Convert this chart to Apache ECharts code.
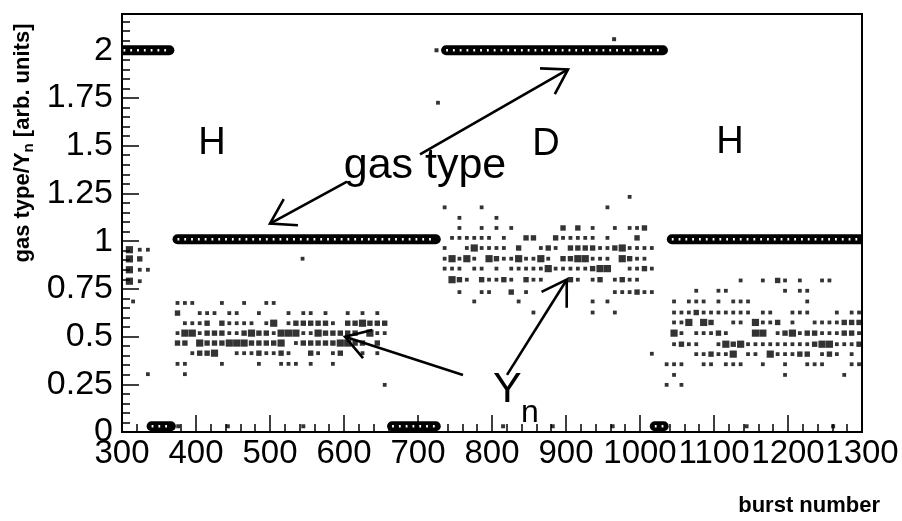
<!DOCTYPE html>
<html><head><meta charset="utf-8">
<script src="https://cdn.jsdelivr.net/npm/echarts@6/dist/echarts.min.js"></script>
<style>html,body{margin:0;padding:0;background:#fff}#c{width:902px;height:521px}</style>
</head><body><div id="c"></div>
<script>
// ---- axis ticks ----
const xTickValues = [300, 400, 500, 600, 700, 800, 900, 1000, 1100, 1200, 1300];
const yTickValues = [0, 0.25, 0.5, 0.75, 1, 1.25, 1.5, 1.75, 2];

// ---- gas type: runs of constant value [first burst, last burst, value] ----
const gasSegments = [
  [302, 364, 2], [375, 724, 1.01], [340, 366, 0.03], [665, 724, 0.03],
  [738, 1031, 2], [1043, 1300, 1.01], [1020, 1032, 0.03]
];
// isolated gas-type readings [burst, value]
const gasIsolated = [
  [376, 0.03], [443, 0.03], [545, 0.03], [815, 0.03], [882, 0.03],
  [963, 0.03], [1144, 0.03], [1261, 0.03], [725, 2.0], [965, 2.058]
];

// ---- Y_n readings [burst, Y_n, weight class 1..3] ----
const ynLeft = [
  [310, 0.955, 3], [324, 0.955, 1], [335, 0.955, 1],
  [310, 0.907, 3], [324, 0.907, 2],
  [310, 0.85, 3], [324, 0.85, 1], [335, 0.85, 1],
  [310, 0.79, 3], [324, 0.79, 1],
  [315, 0.684, 1], [335, 0.303, 1]
];
const ynH1 = [
  [375,0.676,1],[385,0.676,1],[395,0.676,1],[435,0.676,1],[465,0.676,1],[495,0.676,1],[505,0.676,1],
  [375,0.623,2],[405,0.623,1],[415,0.623,1],[425,0.623,1],[445,0.623,1],[455,0.623,1],[485,0.623,1],
  [525,0.623,1],[545,0.623,1],[555,0.623,1],[575,0.623,1],[605,0.623,1],[625,0.623,1],[645,0.623,1],
  [385,0.57,1],[395,0.57,1],[405,0.57,1],[415,0.57,2],[435,0.57,2],[445,0.57,1],[455,0.57,1],[465,0.57,1],
  [475,0.57,1],[495,0.57,1],[505,0.57,3],[525,0.57,1],[535,0.57,2],[545,0.57,2],[555,0.57,2],[565,0.57,2],
  [575,0.57,2],[585,0.57,1],[605,0.57,2],[615,0.57,2],[625,0.57,3],[635,0.57,2],[645,0.57,2],[655,0.57,2],
  [375,0.518,1],[385,0.518,3],[395,0.518,3],[405,0.518,1],[415,0.518,2],[425,0.518,2],[435,0.518,2],
  [445,0.518,1],[455,0.518,1],[465,0.518,2],[475,0.518,3],[485,0.518,2],[495,0.518,2],[505,0.518,1],
  [515,0.518,3],[525,0.518,3],[535,0.518,3],[545,0.518,1],[555,0.518,1],[565,0.518,3],[575,0.518,2],
  [585,0.518,2],[595,0.518,2],[605,0.518,2],[615,0.518,2],[635,0.518,3],[645,0.518,1],[655,0.518,1],
  [375,0.466,2],[385,0.466,2],[405,0.466,3],[415,0.466,2],[425,0.466,2],[435,0.466,2],[445,0.466,3],
  [455,0.466,3],[465,0.466,3],[475,0.466,2],[485,0.466,2],[495,0.466,2],[505,0.466,2],[515,0.466,3],
  [535,0.466,1],[545,0.466,2],[555,0.466,2],[565,0.466,2],[575,0.466,2],[585,0.466,2],[595,0.466,3],
  [605,0.466,3],[615,0.466,2],[625,0.466,2],[645,0.466,2],
  [395,0.413,1],[405,0.413,2],[415,0.413,2],[425,0.413,3],[455,0.413,1],[465,0.413,1],[475,0.413,1],
  [485,0.413,2],[495,0.413,1],[505,0.413,1],[515,0.413,2],[525,0.413,1],[555,0.413,2],[565,0.413,1],
  [585,0.413,1],[595,0.413,2],[625,0.413,1],[645,0.413,1],
  [375,0.357,1],[385,0.357,1],[435,0.357,1],[485,0.357,1],[515,0.357,1],[525,0.357,1],[535,0.357,1],
  [555,0.357,1],[585,0.357,1],
  [385,0.303,1],[655,0.247,1],[544,0.908,1],[727,1.725,1]
];
const ynD = [
  [986,1.232,1],
  [736,1.177,1],[786,1.177,1],[956,1.177,1],
  [756,1.122,1],[806,1.122,1],
  [756,1.069,1],[786,1.069,1],[806,1.069,1],[826,1.069,1],[896,1.069,2],[916,1.069,2],[936,1.069,1],
  [966,1.069,1],[986,1.069,1],[996,1.069,1],[1006,1.069,2],
  [746,1.017,1],[756,1.017,1],[766,1.017,1],[776,1.017,1],[786,1.017,1],[796,1.017,1],[816,1.017,1],
  [846,1.017,2],[856,1.017,2],[886,1.017,2],[896,1.017,1],[906,1.017,1],[916,1.017,1],[926,1.017,1],
  [936,1.017,1],[956,1.017,1],[996,1.017,2],
  [736,0.964,1],[766,0.964,1],[776,0.964,3],[786,0.964,1],[796,0.964,1],[806,0.964,1],[816,0.964,1],
  [836,0.964,2],[866,0.964,1],[876,0.964,2],[886,0.964,1],[906,0.964,2],[916,0.964,2],[926,0.964,2],
  [936,0.964,2],[946,0.964,1],[956,0.964,1],[966,0.964,2],[976,0.964,3],[986,0.964,1],[996,0.964,1],
  [1006,0.964,1],[1016,0.964,1],
  [736,0.908,1],[746,0.908,3],[756,0.908,1],[766,0.908,3],[776,0.908,1],[796,0.908,3],[806,0.908,2],
  [816,0.908,1],[826,0.908,1],[836,0.908,3],[846,0.908,1],[856,0.908,1],[866,0.908,3],[876,0.908,1],
  [896,0.908,2],[906,0.908,2],[916,0.908,3],[926,0.908,3],[936,0.908,1],[946,0.908,1],[956,0.908,1],
  [976,0.908,3],[986,0.908,2],[996,0.908,1],[1006,0.908,1],
  [736,0.856,1],[746,0.856,1],[756,0.856,1],[776,0.856,1],[786,0.856,1],[806,0.856,1],[826,0.856,1],
  [836,0.856,1],[846,0.856,1],[856,0.856,1],[866,0.856,1],[876,0.856,3],[886,0.856,1],[896,0.856,1],
  [906,0.856,1],[916,0.856,1],[926,0.856,1],[936,0.856,2],[946,0.856,3],[956,0.856,3],[986,0.856,1],
  [996,0.856,1],[1006,0.856,2],[1016,0.856,1],
  [746,0.798,3],[756,0.798,2],[766,0.798,1],[786,0.798,2],[796,0.798,1],[806,0.798,1],[816,0.798,2],
  [826,0.798,1],[846,0.798,2],[856,0.798,1],[866,0.798,1],[906,0.798,2],[916,0.798,1],[936,0.798,1],
  [946,0.798,2],[966,0.798,1],[976,0.798,2],[986,0.798,1],[996,0.798,1],
  [756,0.733,1],[786,0.733,1],[796,0.733,1],[826,0.733,2],[846,0.733,1],[966,0.733,1],[976,0.733,1],
  [986,0.733,1],[996,0.733,2],[1006,0.733,1],[1016,0.733,1],
  [776,0.684,1],[836,0.684,1],[936,0.684,1],[956,0.684,1],
  [856,0.626,1],[936,0.626,1],[966,0.626,1],
  [1016,0.41,1]
];
const ynH2 = [
  [1136,0.794,1],[1166,0.794,1],[1186,0.794,2],[1196,0.794,1],[1216,0.794,1],[1246,0.794,1],[1256,0.794,1],
  [1076,0.74,1],[1106,0.74,1],[1116,0.74,1],[1196,0.74,1],[1216,0.74,1],[1226,0.74,1],
  [1046,0.684,1],[1066,0.684,1],[1076,0.684,1],[1086,0.684,1],[1106,0.684,1],[1126,0.684,1],[1136,0.684,1],
  [1146,0.684,1],[1226,0.684,1],
  [1046,0.626,1],[1056,0.626,1],[1066,0.626,1],[1076,0.626,2],[1086,0.626,1],[1096,0.626,1],[1106,0.626,1],
  [1116,0.626,1],[1126,0.626,1],[1136,0.626,1],[1146,0.626,1],[1166,0.626,1],[1176,0.626,1],[1206,0.626,1],
  [1216,0.626,1],[1226,0.626,1],[1266,0.626,1],[1286,0.626,1],[1296,0.626,1],
  [1046,0.574,1],[1056,0.574,1],[1066,0.574,3],[1086,0.574,3],[1096,0.574,2],[1126,0.574,1],[1136,0.574,1],
  [1156,0.574,3],[1166,0.574,1],[1176,0.574,1],[1186,0.574,2],[1206,0.574,1],[1236,0.574,1],[1246,0.574,1],
  [1256,0.574,1],[1266,0.574,1],[1276,0.574,2],[1286,0.574,2],[1296,0.574,2],
  [1046,0.518,3],[1056,0.518,1],[1076,0.518,1],[1086,0.518,1],[1096,0.518,1],[1106,0.518,2],[1116,0.518,1],
  [1156,0.518,3],[1166,0.518,3],[1186,0.518,1],[1196,0.518,2],[1206,0.518,3],[1216,0.518,1],[1226,0.518,2],
  [1236,0.518,2],[1246,0.518,1],[1256,0.518,1],[1266,0.518,1],[1276,0.518,2],[1286,0.518,2],[1296,0.518,1],
  [1046,0.46,1],[1056,0.46,2],[1066,0.46,1],[1076,0.46,1],[1106,0.46,1],[1116,0.46,3],[1126,0.46,2],
  [1136,0.46,3],[1146,0.46,1],[1156,0.46,1],[1166,0.46,1],[1176,0.46,1],[1186,0.46,1],[1196,0.46,1],
  [1206,0.46,1],[1216,0.46,1],[1226,0.46,1],[1236,0.46,2],[1246,0.46,3],[1256,0.46,3],[1266,0.46,1],
  [1276,0.46,1],[1286,0.46,1],[1296,0.46,2],
  [1076,0.408,1],[1086,0.408,1],[1096,0.408,2],[1106,0.408,1],[1116,0.408,1],[1126,0.408,3],[1146,0.408,1],
  [1156,0.408,1],[1176,0.408,3],[1186,0.408,1],[1196,0.408,1],[1206,0.408,1],[1216,0.408,2],[1226,0.408,2],
  [1246,0.408,1],[1256,0.408,2],[1266,0.408,1],[1286,0.408,1],
  [1036,0.355,1],[1046,0.355,1],[1056,0.355,1],[1086,0.355,1],[1096,0.355,1],[1116,0.355,1],[1126,0.355,1],
  [1136,0.355,1],[1166,0.355,1],[1196,0.355,1],[1226,0.355,1],[1236,0.355,1],[1246,0.355,1],[1286,0.355,1],
  [1296,0.355,1],
  [1046,0.299,1],[1196,0.299,1],[1276,0.299,1],
  [1036,0.247,1],[1056,0.247,1]
];

// ---- annotation arrows [tail burst, tail value, tip burst, tip value] ----
const arrows = [
  [702.7, 1.454, 902.7, 1.900],
  [604.1, 1.312, 500.0, 1.092],
  [760.8, 0.299, 601.4, 0.499],
  [820.3, 0.299, 901.0, 0.798]
];

const FONT = '"Liberation Sans", Arial, Helvetica, sans-serif';
const chart = echarts.init(document.getElementById('c'), null, {renderer: 'canvas'});
const dotSize = [3.8, 5.4, 7.2];

const option = {
  backgroundColor: '#fff',
  animation: false,
  grid: {left: 122, right: 40, top: 14, bottom: 89, show: true, borderColor: '#000', borderWidth: 2, backgroundColor: 'transparent'},
  xAxis: [{
    type: 'value', min: xTickValues[0], max: xTickValues[xTickValues.length - 1], interval: 100,
    axisLine: {show: true, lineStyle: {color: '#000', width: 2}},
    axisTick: {show: true, inside: true, length: 17, lineStyle: {color: '#000', width: 1.5}},
    minorTick: {show: true, splitNumber: 5, length: 8, lineStyle: {color: '#000', width: 1.5}},
    axisLabel: {color: '#000', fontSize: 33, fontFamily: FONT, margin: 5, interval: 0,
      showMinLabel: true, showMaxLabel: true, hideOverlap: false, formatter: v => String(v)},
    splitLine: {show: false}
  }],
  yAxis: [{
    type: 'value', min: 0, max: 2.19, interval: 0.25, position: 'left',
    axisLine: {show: true, lineStyle: {color: '#000', width: 2}},
    axisTick: {show: true, inside: true, length: 17, lineStyle: {color: '#000', width: 1.5}},
    axisLabel: {color: '#000', fontSize: 34, fontFamily: FONT, margin: 9, showMaxLabel: false,
      formatter: v => (yTickValues.indexOf(Math.round(v * 100) / 100) >= 0 ? String(Math.round(v * 100) / 100) : '')},
    splitLine: {show: false}
  }, {
    type: 'value', min: 0, max: 2.19, interval: 0.05, position: 'left', offset: 0,
    axisLine: {show: false},
    axisTick: {show: true, inside: true, length: 8, lineStyle: {color: '#000', width: 1.5}},
    axisLabel: {show: false},
    splitLine: {show: false}
  }],
  series: [
    {
      type: 'custom', clip: true, z: 2,
      data: gasSegments,
      renderItem: (params, api) => {
        const a = api.coord([api.value(0), api.value(2)]);
        const b = api.coord([api.value(1), api.value(2)]);
        return {type: 'group', children: [
          {type: 'line', shape: {x1: a[0], y1: a[1], x2: b[0], y2: b[1]},
           style: {stroke: '#000', lineWidth: 10, lineCap: 'round'}},
          {type: 'line', shape: {x1: a[0], y1: a[1], x2: b[0], y2: b[1]},
           style: {stroke: '#fff', lineWidth: 2.6, lineDash: [1.8, 5], lineCap: 'butt'}}
        ]};
      }
    },
    {type: 'scatter', z: 3, symbol: 'rect', symbolSize: 4, data: gasIsolated, itemStyle: {color: '#000'}, silent: true},
    {type: 'scatter', z: 3, symbol: 'rect', symbolSize: v => dotSize[v[2] - 1], data: ynLeft, itemStyle: {color: '#000'}, silent: true},
    {type: 'scatter', z: 3, symbol: 'rect', symbolSize: v => dotSize[v[2] - 1], data: ynH1, itemStyle: {color: '#000'}, silent: true},
    {type: 'scatter', z: 3, symbol: 'rect', symbolSize: v => dotSize[v[2] - 1], data: ynD, itemStyle: {color: '#000'}, silent: true},
    {type: 'scatter', z: 3, symbol: 'rect', symbolSize: v => dotSize[v[2] - 1], data: ynH2, itemStyle: {color: '#000'}, silent: true},
    {
      type: 'custom', clip: false, z: 5,
      data: arrows,
      renderItem: (params, api) => {
        const t = api.coord([api.value(0), api.value(1)]);
        const h = api.coord([api.value(2), api.value(3)]);
        const ang = Math.atan2(t[1] - h[1], t[0] - h[0]);
        const L = 28, sp = 32 * Math.PI / 180;
        const p1 = [h[0] + L * Math.cos(ang + sp), h[1] + L * Math.sin(ang + sp)];
        const p2 = [h[0] + L * Math.cos(ang - sp), h[1] + L * Math.sin(ang - sp)];
        return {type: 'group', children: [
          {type: 'line', shape: {x1: t[0], y1: t[1], x2: h[0], y2: h[1]}, style: {stroke: '#000', lineWidth: 2.6}},
          {type: 'polyline', shape: {points: [p1, h, p2]}, style: {stroke: '#000', fill: null, lineWidth: 2.6}}
        ]};
      }
    }
  ],
  graphic: [
    {type: 'text', x: 212, y: 144, z: 10, style: {text: 'H', fontSize: 38, fontFamily: FONT, fill: '#000', align: 'center', verticalAlign: 'middle'}},
    {type: 'text', x: 546, y: 145, z: 10, style: {text: 'D', fontSize: 38, fontFamily: FONT, fill: '#000', align: 'center', verticalAlign: 'middle'}},
    {type: 'text', x: 730, y: 143, z: 10, style: {text: 'H', fontSize: 38, fontFamily: FONT, fill: '#000', align: 'center', verticalAlign: 'middle'}},
    {type: 'text', x: 425, y: 166, z: 10, style: {text: 'gas type', fontSize: 43, fontFamily: FONT, fill: '#000', align: 'center', verticalAlign: 'middle'}},
    {type: 'text', x: 493, y: 390, z: 10, style: {text: 'Y', fontSize: 43, fontFamily: FONT, fill: '#000', align: 'left', verticalAlign: 'middle'}},
    {type: 'text', x: 521, y: 413, z: 10, style: {text: 'n', fontSize: 32, fontFamily: FONT, fill: '#000', align: 'left', verticalAlign: 'middle'}},
    {type: 'text', x: 23, y: 143, rotation: Math.PI / 2, z: 10, style: {
      text: '{a|gas type/Y}{b|n}{a| [arb. units]}', align: 'center', verticalAlign: 'middle',
      rich: {
        a: {fontSize: 22, fontWeight: 'bold', fontFamily: FONT, fill: '#000', color: '#000', lineHeight: 26, verticalAlign: 'middle'},
        b: {fontSize: 15, fontWeight: 'bold', fontFamily: FONT, fill: '#000', color: '#000', lineHeight: 26, verticalAlign: 'bottom'}
      }}},
    {type: 'text', x: 880, y: 506, z: 10, style: {text: 'burst number', fontSize: 22, fontWeight: 'bold', fontFamily: FONT, fill: '#000', align: 'right', verticalAlign: 'middle'}}
  ]
};
chart.setOption(option);
</script>
</body></html>
